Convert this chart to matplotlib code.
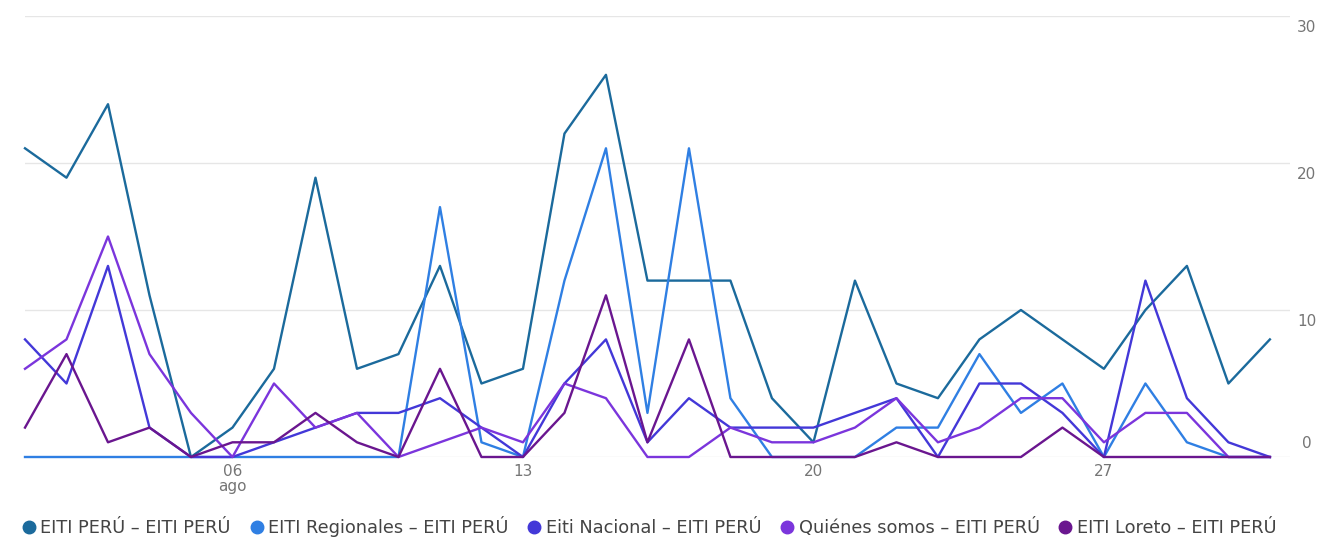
import matplotlib
matplotlib.use("Agg")
import matplotlib.pyplot as plt
from matplotlib.lines import Line2D

days = list(range(1, 32))
series_names = ["EITI PERÚ – EITI PERÚ", "EITI Regionales – EITI PERÚ",
                "Eiti Nacional – EITI PERÚ", "Quiénes somos – EITI PERÚ",
                "EITI Loreto – EITI PERÚ"]
eiti_peru = [21, 19, 24, 11, 0, 2, 6, 19, 6, 7, 13, 5, 6, 22, 26, 12, 12, 12, 4, 1, 12,
             5, 4, 8, 10, 8, 6, 10, 13, 5, 8]
regionales = [0, 0, 0, 0, 0, 0, 0, 0, 0, 0, 17, 1, 0, 12, 21, 3, 21, 4, 0, 0, 0,
              2, 2, 7, 3, 5, 0, 5, 1, 0, 0]
nacional = [8, 5, 13, 2, 0, 0, 1, 2, 3, 3, 4, 2, 0, 5, 8, 1, 4, 2, 2, 2, 3,
            4, 0, 5, 5, 3, 0, 12, 4, 1, 0]
quienes = [6, 8, 15, 7, 3, 0, 5, 2, 3, 0, 1, 2, 1, 5, 4, 0, 0, 2, 1, 1, 2,
           4, 1, 2, 4, 4, 1, 3, 3, 0, 0]
loreto = [2, 7, 1, 2, 0, 1, 1, 3, 1, 0, 6, 0, 0, 3, 11, 1, 8, 0, 0, 0, 0,
          1, 0, 0, 0, 2, 0, 0, 0, 0, 0]
x_ticks = [6, 13, 20, 27]
x_tick_labels = ["06\nago", "13", "20", "27"]
y_ticks = [0, 10, 20, 30]

colors = ["#1b6a9c", "#2f7fe3", "#4338d8", "#7b35dc", "#6a168f"]
all_series = [eiti_peru, regionales, nacional, quienes, loreto]

plt.rcParams['font.family'] = ['DejaVu Sans']

fig = plt.figure(figsize=(13.32, 5.48), dpi=100)
ax = fig.add_axes([25 / 1332, (548 - 457) / 548, (1290 - 25) / 1332, (457 - 16) / 548])

for vals, c in zip(all_series, colors):
    ax.plot(days, vals, color=c, lw=1.7, clip_on=False, zorder=3)

ax.set_xlim(1, 31 + 20 / 41.3)
ax.set_ylim(0, 30)
for s in ax.spines.values():
    s.set_visible(False)
ax.set_yticks(y_ticks)
ax.set_yticklabels([])
ax.tick_params(axis='both', length=0)
ax.grid(axis='y', color='#e6e6e6', lw=1)
ax.set_axisbelow(True)
ax.set_xticks(x_ticks)
ax.set_xticklabels(x_tick_labels, color='#757575', fontsize=11, linespacing=1.0)
ax.tick_params(axis='x', pad=5)

for yv in y_ticks:
    if yv == 0:
        ax.annotate(str(yv), xy=(1.0, yv), xycoords=('axes fraction', 'data'),
                    xytext=(12, 4), textcoords='offset points', ha='center', va='bottom',
                    color='#757575', fontsize=11)
    else:
        ax.annotate(str(yv), xy=(1.0, yv), xycoords=('axes fraction', 'data'),
                    xytext=(12, -3), textcoords='offset points', ha='center', va='top',
                    color='#757575', fontsize=11)

handles = [Line2D([], [], marker='o', ls='none', color=c, markersize=9) for c in colors]
fig.legend(handles, series_names, loc='lower left', bbox_to_anchor=(0.003, -0.01),
           ncol=5, frameon=False, fontsize=12.8, handletextpad=0.15,
           columnspacing=0.95, labelcolor='#444444', handlelength=1.0)

fig.savefig("out.png", dpi=100)
